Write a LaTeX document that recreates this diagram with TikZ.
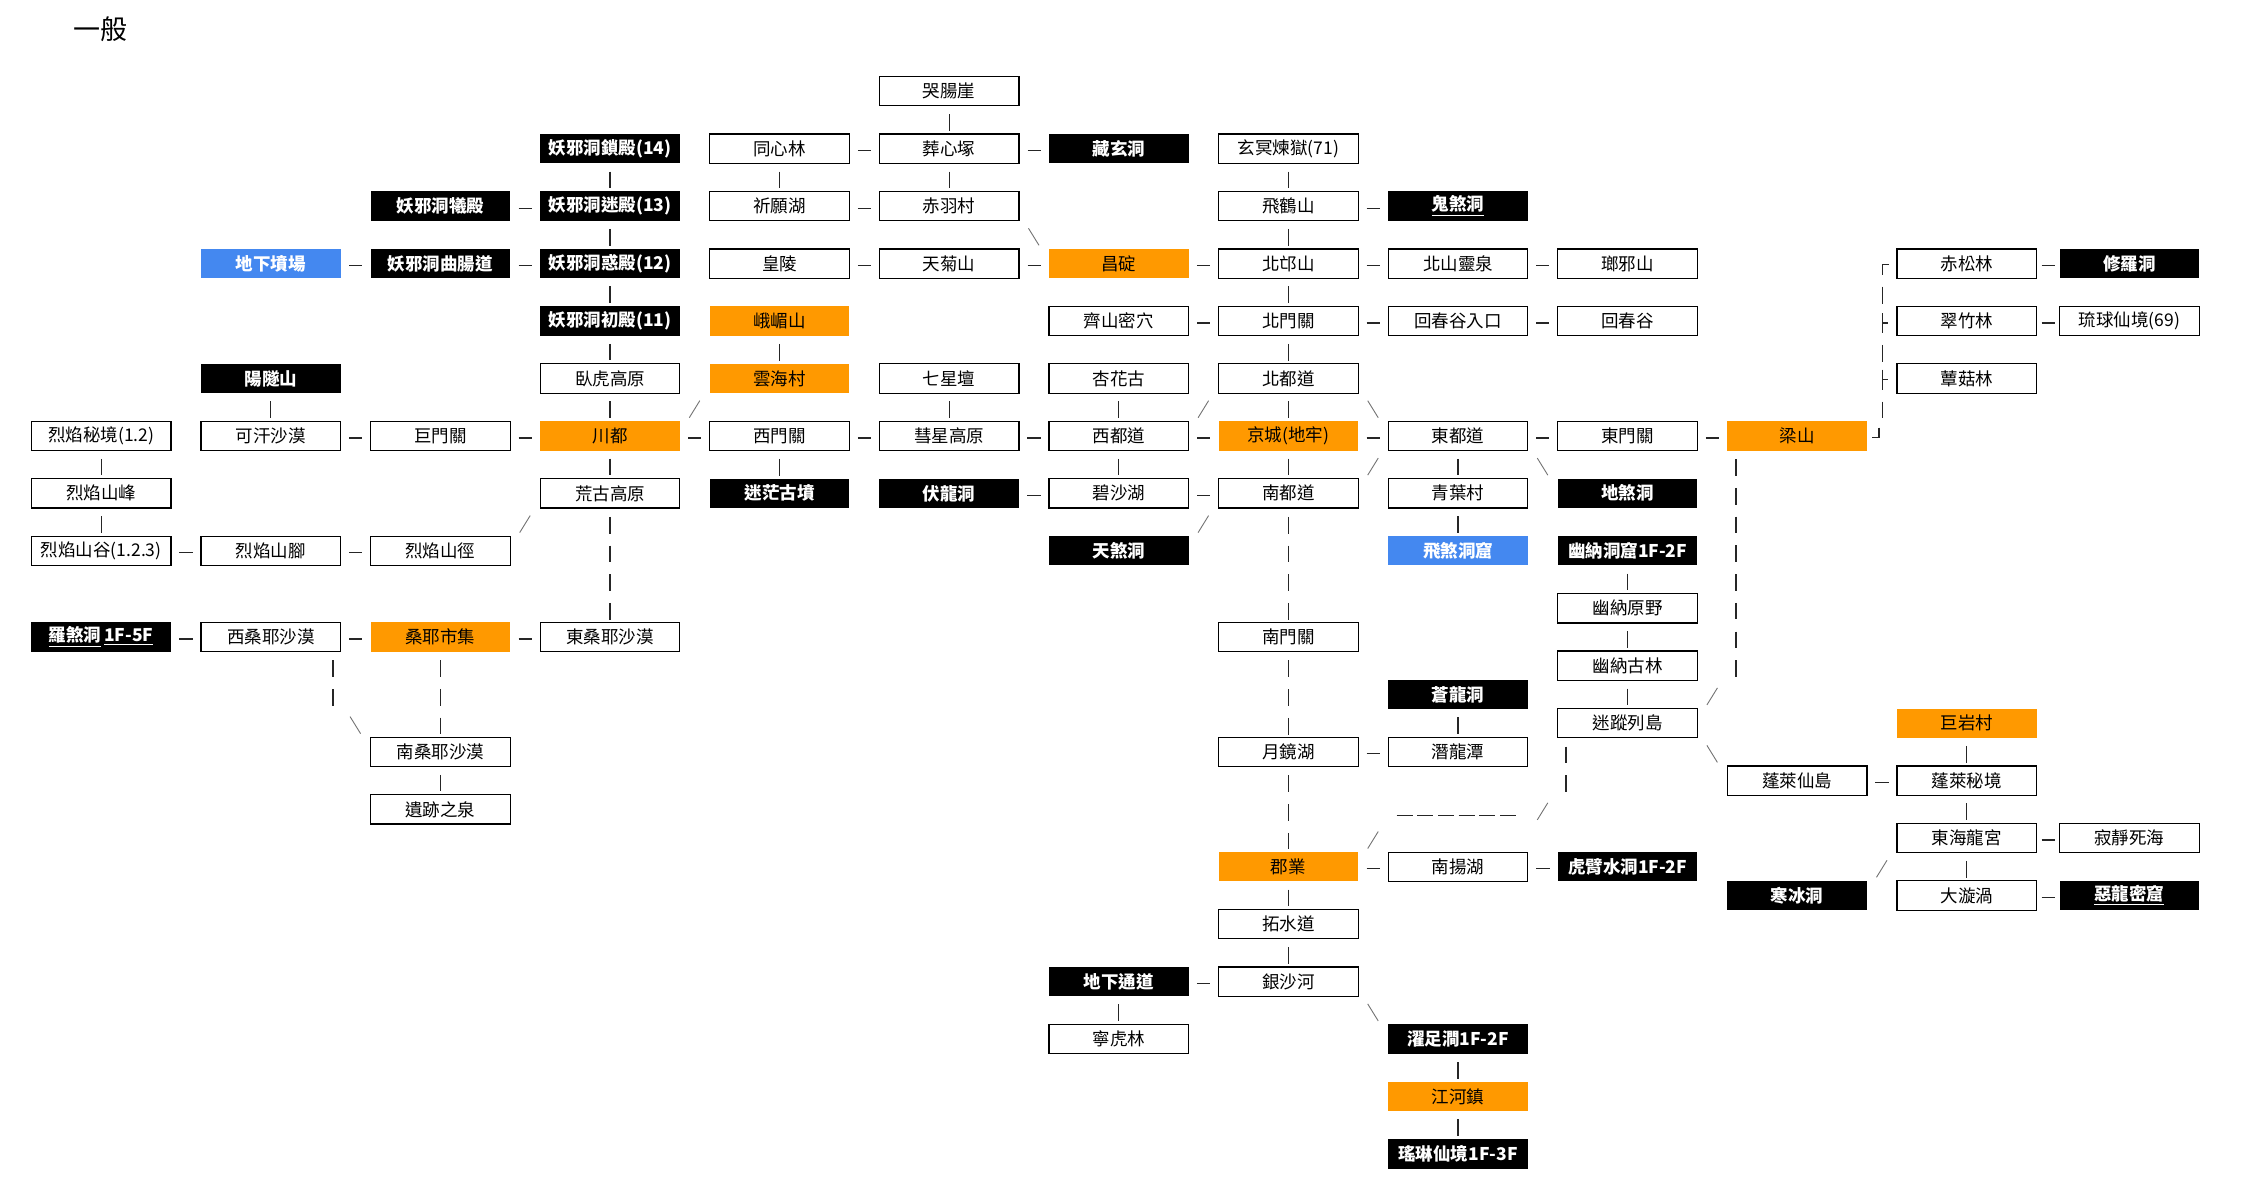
\documentclass[tikz,border=0pt]{standalone}
\usepackage{fontspec}
\newfontfamily\cjk{Noto Sans CJK TC}
\usetikzlibrary{calc}
\definecolor{orangeC}{RGB}{255,153,0}
\definecolor{blueC}{RGB}{68,136,240}
\newcommand\lkh[2]{\draw[lnk] ($(#1.east)!.5!(#2.west)$) ++(-3.3pt,-1pt) -- ++(6.6pt,0pt);}
\newcommand\lkv[2]{\draw[lnk] ($(#1.south)!.5!(#2.north)$) ++(0pt,2.925pt) -- ++(0pt,-8.35pt);}
\newcommand\lkvd[2]{\draw[lnk,vdash] (#1.south) -- (#1.south |- #2.north);}
\newcommand\slashat[1]{\draw[dg] (#1) ++(-2.75pt,-5.25pt) -- ++(5.25pt,8.5pt);}
\newcommand\bslashat[1]{\draw[dg] (#1) ++(-2.75pt,3.25pt) -- ++(5.25pt,-8.5pt);}
\newcommand\lks[2]{\slashat{$(#1.center)!.5!(#2.center)$}}
\newcommand\lkb[2]{\bslashat{$(#1.center)!.5!(#2.center)$}}
\begin{document}
\begin{tikzpicture}[x=0.5pt,y=-0.5pt,
  box/.style={minimum width=69.75pt,minimum height=14.65pt,inner sep=0pt,font=\cjk\fontsize{8.75pt}{10pt}\selectfont},
  wb/.style={box,draw=black,line width=0.6pt,fill=white},
  bb/.style={box,fill=black,text=white,font=\cjk\bfseries\fontsize{8.75pt}{10pt}\selectfont},
  ob/.style={box,fill=orangeC,text=black},
  ub/.style={box,fill=blueC,text=white,font=\cjk\bfseries\fontsize{8.75pt}{10pt}\selectfont},
  lnk/.style={draw=black!85,line width=0.6pt},
  dg/.style={draw=black!55,line width=0.45pt},
  vdash/.style={dash pattern=on 0pt off 4.1pt on 8.35pt off 1.9125pt},
]
\fill[white] (0,0) rectangle (2250,1194);
\useasboundingbox (0,0) rectangle (2250,1194);
\node[font=\cjk\fontsize{13.5pt}{15pt}\selectfont] (title) at (100,29) {一般};

\begin{scope}[x=84.8pt,y=-14.3625pt,shift={(50.6pt,-45.6pt)}]
\def\cz{11.959}
% h0
\node[wb] (kuchang) at (5,0) {哭腸崖};
% h2
\node[bb] (yxs14) at (3,2) {妖邪洞鎖殿(14)};
\node[wb] (tongxin) at (4,2) {同心林};
\node[wb] (zangxin) at (5,2) {葬心塚};
\node[bb] (zangxuan) at (6,2) {藏玄洞};
\node[wb] (xuanming) at (7,2) {玄冥煉獄(71)};
% h4
\node[bb] (yxxi) at (2,4) {妖邪洞犧殿};
\node[bb] (yxm13) at (3,4) {妖邪洞迷殿(13)};
\node[wb] (qiyuan) at (4,4) {祈願湖};
\node[wb] (chiyu) at (5,4) {赤羽村};
\node[wb] (feihe) at (7,4) {飛鶴山};
\node[bb] (guisha) at (8,4) {\underline{鬼煞洞}};
% h6
\node[ub] (dixiafen) at (1,6) {地下墳場};
\node[bb] (yxqu) at (2,6) {妖邪洞曲腸道};
\node[bb] (yxh12) at (3,6) {妖邪洞惑殿(12)};
\node[wb] (huangling) at (4,6) {皇陵};
\node[wb] (tianju) at (5,6) {天菊山};
\node[ob] (changding) at (6,6) {昌碇};
\node[wb] (beimang) at (7,6) {北邙山};
\node[wb] (beishan) at (8,6) {北山靈泉};
\node[wb] (langya) at (9,6) {瑯邪山};
\node[wb] (chisong) at (11,6) {赤松林};
\node[bb] (xiuluo) at (\cz,6) {修羅洞};
% h8
\node[bb] (yxc11) at (3,8) {妖邪洞初殿(11)};
\node[ob] (emei) at (4,8) {峨嵋山};
\node[wb] (qishan) at (6,8) {齊山密穴};
\node[wb] (beimen) at (7,8) {北門關};
\node[wb] (huichunrk) at (8,8) {回春谷入口};
\node[wb] (huichun) at (9,8) {回春谷};
\node[wb] (cuizhu) at (11,8) {翠竹林};
\node[wb] (liuqiu) at (\cz,8) {琉球仙境(69)};
% h10
\node[bb] (yangsui) at (1,10) {陽隧山};
\node[wb] (wohu) at (3,10) {臥虎高原};
\node[ob] (yunhai) at (4,10) {雲海村};
\node[wb] (qixing) at (5,10) {七星壇};
\node[wb] (xinghua) at (6,10) {杏花古};
\node[wb] (beidu) at (7,10) {北都道};
\node[wb] (xungu) at (11,10) {蕈菇林};
% h12
\node[wb] (lymj) at (0,12) {烈焰秘境(1.2)};
\node[wb] (kehan) at (1,12) {可汗沙漠};
\node[wb] (jumen) at (2,12) {巨門關};
\node[ob] (chuandu) at (3,12) {川都};
\node[wb] (ximen) at (4,12) {西門關};
\node[wb] (huixing) at (5,12) {彗星高原};
\node[wb] (xidu) at (6,12) {西都道};
\node[ob] (jingcheng) at (7,12) {京城(地牢)};
\node[wb] (dongdu) at (8,12) {東都道};
\node[wb] (dongmen) at (9,12) {東門關};
\node[ob] (liangshan) at (10,12) {梁山};
% h14
\node[wb] (lyf) at (0,14) {烈焰山峰};
\node[wb] (huanggu) at (3,14) {荒古高原};
\node[bb] (mimang) at (4,14) {迷茫古墳};
\node[bb] (fulong) at (5,14) {伏龍洞};
\node[wb] (bisha) at (6,14) {碧沙湖};
\node[wb] (nandu) at (7,14) {南都道};
\node[wb] (qingye) at (8,14) {青葉村};
\node[bb] (disha) at (9,14) {地煞洞};
% h16
\node[wb] (lyg) at (0,16) {烈焰山谷(1.2.3)};
\node[wb] (lyj) at (1,16) {烈焰山腳};
\node[wb] (lyjing) at (2,16) {烈焰山徑};
\node[bb] (tiansha) at (6,16) {天煞洞};
\node[ub] (feisha) at (8,16) {飛煞洞窟};
\node[bb] (younadong) at (9,16) {幽納洞窟1F-2F};
% h18-h21
\node[wb] (younayuan) at (9,18) {幽納原野};
\node[bb] (luosha) at (0,19) {\underline{羅煞洞}\,\underline{1F-5F}};
\node[wb] (xisang) at (1,19) {西桑耶沙漠};
\node[ob] (sangye) at (2,19) {桑耶市集};
\node[wb] (dongsang) at (3,19) {東桑耶沙漠};
\node[wb] (nanmen) at (7,19) {南門關};
\node[wb] (younagu) at (9,20) {幽納古林};
\node[bb] (canglong) at (8,21) {蒼龍洞};
% h22-h29
\node[wb] (mizong) at (9,22) {迷蹤列島};
\node[ob] (juyan) at (11,22) {巨岩村};
\node[wb] (nansang) at (2,23) {南桑耶沙漠};
\node[wb] (yuejing) at (7,23) {月鏡湖};
\node[wb] (qianlong) at (8,23) {潛龍潭};
\node[wb] (penglaid) at (10,24) {蓬萊仙島};
\node[wb] (penglaim) at (11,24) {蓬萊秘境};
\node[wb] (yiji) at (2,25) {遺跡之泉};
\node[wb] (donghai) at (11,26) {東海龍宮};
\node[wb] (jijing) at (\cz,26) {寂靜死海};
\node[ob] (junye) at (7,27) {郡業};
\node[wb] (nanyang) at (8,27) {南揚湖};
\node[bb] (hubi) at (9,27) {虎臂水洞1F-2F};
\node[bb] (hanbing) at (10,28) {寒冰洞};
\node[wb] (daxuan) at (11,28) {大漩渦};
\node[bb] (elong) at (\cz,28) {\underline{惡龍密窟}};
\node[wb] (tuoshui) at (7,29) {拓水道};
% h31-h37
\node[bb] (dixiatong) at (6,31) {地下通道};
\node[wb] (yinsha) at (7,31) {銀沙河};
\node[wb] (ninghu) at (6,33) {寧虎林};
\node[bb] (zhuozu) at (8,33) {濯足澗1F-2F};
\node[ob] (jianghe) at (8,35) {江河鎮};
\node[bb] (yaolin) at (8,37) {瑤琳仙境1F-3F};

% horizontal links
\lkh{tongxin}{zangxin} \lkh{zangxin}{zangxuan}
\lkh{yxxi}{yxm13} \lkh{qiyuan}{chiyu} \lkh{feihe}{guisha}
\lkh{dixiafen}{yxqu} \lkh{yxqu}{yxh12} \lkh{huangling}{tianju} \lkh{tianju}{changding}
\lkh{changding}{beimang} \lkh{beimang}{beishan} \lkh{beishan}{langya} \lkh{chisong}{xiuluo}
\lkh{qishan}{beimen} \lkh{beimen}{huichunrk} \lkh{huichunrk}{huichun} \lkh{cuizhu}{liuqiu}
\lkh{kehan}{jumen} \lkh{jumen}{chuandu} \lkh{chuandu}{ximen} \lkh{ximen}{huixing}
\lkh{huixing}{xidu} \lkh{xidu}{jingcheng} \lkh{jingcheng}{dongdu} \lkh{dongdu}{dongmen}
\lkh{dongmen}{liangshan}
\lkh{fulong}{bisha} \lkh{bisha}{nandu}
\lkh{lyg}{lyj} \lkh{lyj}{lyjing}
\lkh{luosha}{xisang} \lkh{xisang}{sangye} \lkh{sangye}{dongsang}
\lkh{yuejing}{qianlong} \lkh{penglaid}{penglaim} \lkh{donghai}{jijing}
\lkh{junye}{nanyang} \lkh{nanyang}{hubi} \lkh{daxuan}{elong} \lkh{dixiatong}{yinsha}

% vertical links
\lkv{lymj}{lyf} \lkv{lyf}{lyg} \lkv{yangsui}{kehan}
\lkv{yxs14}{yxm13} \lkv{yxm13}{yxh12} \lkv{yxh12}{yxc11} \lkv{yxc11}{wohu}
\lkv{wohu}{chuandu} \lkv{chuandu}{huanggu}
\lkv{tongxin}{qiyuan} \lkv{emei}{yunhai} \lkv{ximen}{mimang}
\lkv{kuchang}{zangxin} \lkv{zangxin}{chiyu} \lkv{qixing}{huixing}
\lkv{xinghua}{xidu} \lkv{xidu}{bisha} \lkv{dixiatong}{ninghu}
\lkv{xuanming}{feihe} \lkv{feihe}{beimang} \lkv{beimang}{beimen} \lkv{beimen}{beidu}
\lkv{beidu}{jingcheng} \lkv{jingcheng}{nandu} \lkv{junye}{tuoshui} \lkv{tuoshui}{yinsha}
\lkv{dongdu}{qingye} \lkv{qingye}{feisha} \lkv{canglong}{qianlong}
\lkv{zhuozu}{jianghe} \lkv{jianghe}{yaolin}
\lkv{younadong}{younayuan} \lkv{younayuan}{younagu} \lkv{younagu}{mizong}
\lkv{juyan}{penglaim} \lkv{penglaim}{donghai} \lkv{donghai}{daxuan}
\lkv{nansang}{yiji}

% long dashed vertical links
\lkvd{huanggu}{dongsang} \lkvd{nandu}{nanmen} \lkvd{nanmen}{yuejing}
\lkvd{yuejing}{junye} \lkvd{sangye}{nansang}

% diagonal links
\lkb{chiyu}{changding} \lks{chuandu}{yunhai} \lks{lyjing}{huanggu}
\lks{xidu}{beidu} \lkb{beidu}{dongdu} \lks{nandu}{dongdu} \lkb{dongdu}{disha}
\lks{tiansha}{nandu} \lkb{yinsha}{zhuozu} \lkb{mizong}{penglaid} \lks{hanbing}{donghai}

% 西桑耶沙漠 -> 南桑耶沙漠
\draw[lnk,vdash] ([xshift=31.1pt]xisang.south) -- ++(0pt,-26.825pt);
\coordinate (xsd) at (1.5,22);
\bslashat{xsd}
% 梁山 -> 迷蹤列島
\draw[lnk,vdash] ([xshift=-30.6pt]liangshan.south) -- ++(0pt,-113pt);
\coordinate (lsd) at (9.5,21);
\slashat{lsd}
% 迷蹤列島 -> 郡業
\draw[lnk,vdash] ([xshift=-30.8pt]mizong.south) -- ++(0pt,-26.825pt);
\coordinate (mzd) at (8.5,25);
\slashat{mzd}
\coordinate (c825) at (8,25);
\draw[lnk,dash pattern=on 7.95pt off 2.4pt] ([xshift=-30.7pt,yshift=-3.25pt]c825) -- ++(59.7pt,0pt);
\coordinate (jyd) at (7.5,26);
\slashat{jyd}

% bracket 梁山 -> 赤松林 / 翠竹林 / 蕈菇林
\coordinate (bk) at (10.503,6);
\draw[lnk] ([xshift=3.25pt,yshift=-0.4pt]bk) -- ([yshift=-0.4pt]bk) -- ([yshift=-5.9pt]bk);
\draw[lnk] ([yshift=-11.5pt]bk) -- ([yshift=-20pt]bk);
\draw[lnk] ([yshift=-24.85pt]bk) -- ([yshift=-34.85pt]bk) ([yshift=-29.75pt]bk) -- ([xshift=2.75pt,yshift=-29.75pt]bk);
\draw[lnk] ([yshift=-40.65pt]bk) -- ([yshift=-49pt]bk);
\draw[lnk] ([yshift=-53pt]bk) -- ([yshift=-63pt]bk) ([yshift=-58pt]bk) -- ([xshift=2.75pt,yshift=-58pt]bk);
\draw[lnk] ([yshift=-69pt]bk) -- ([yshift=-77.35pt]bk);
\draw[lnk] ([xshift=-1.75pt,yshift=-82pt]bk) -- ([xshift=-1.75pt,yshift=-87pt]bk) -- ([xshift=-5.25pt,yshift=-87pt]bk);
\end{scope}
\end{tikzpicture}
\end{document}
